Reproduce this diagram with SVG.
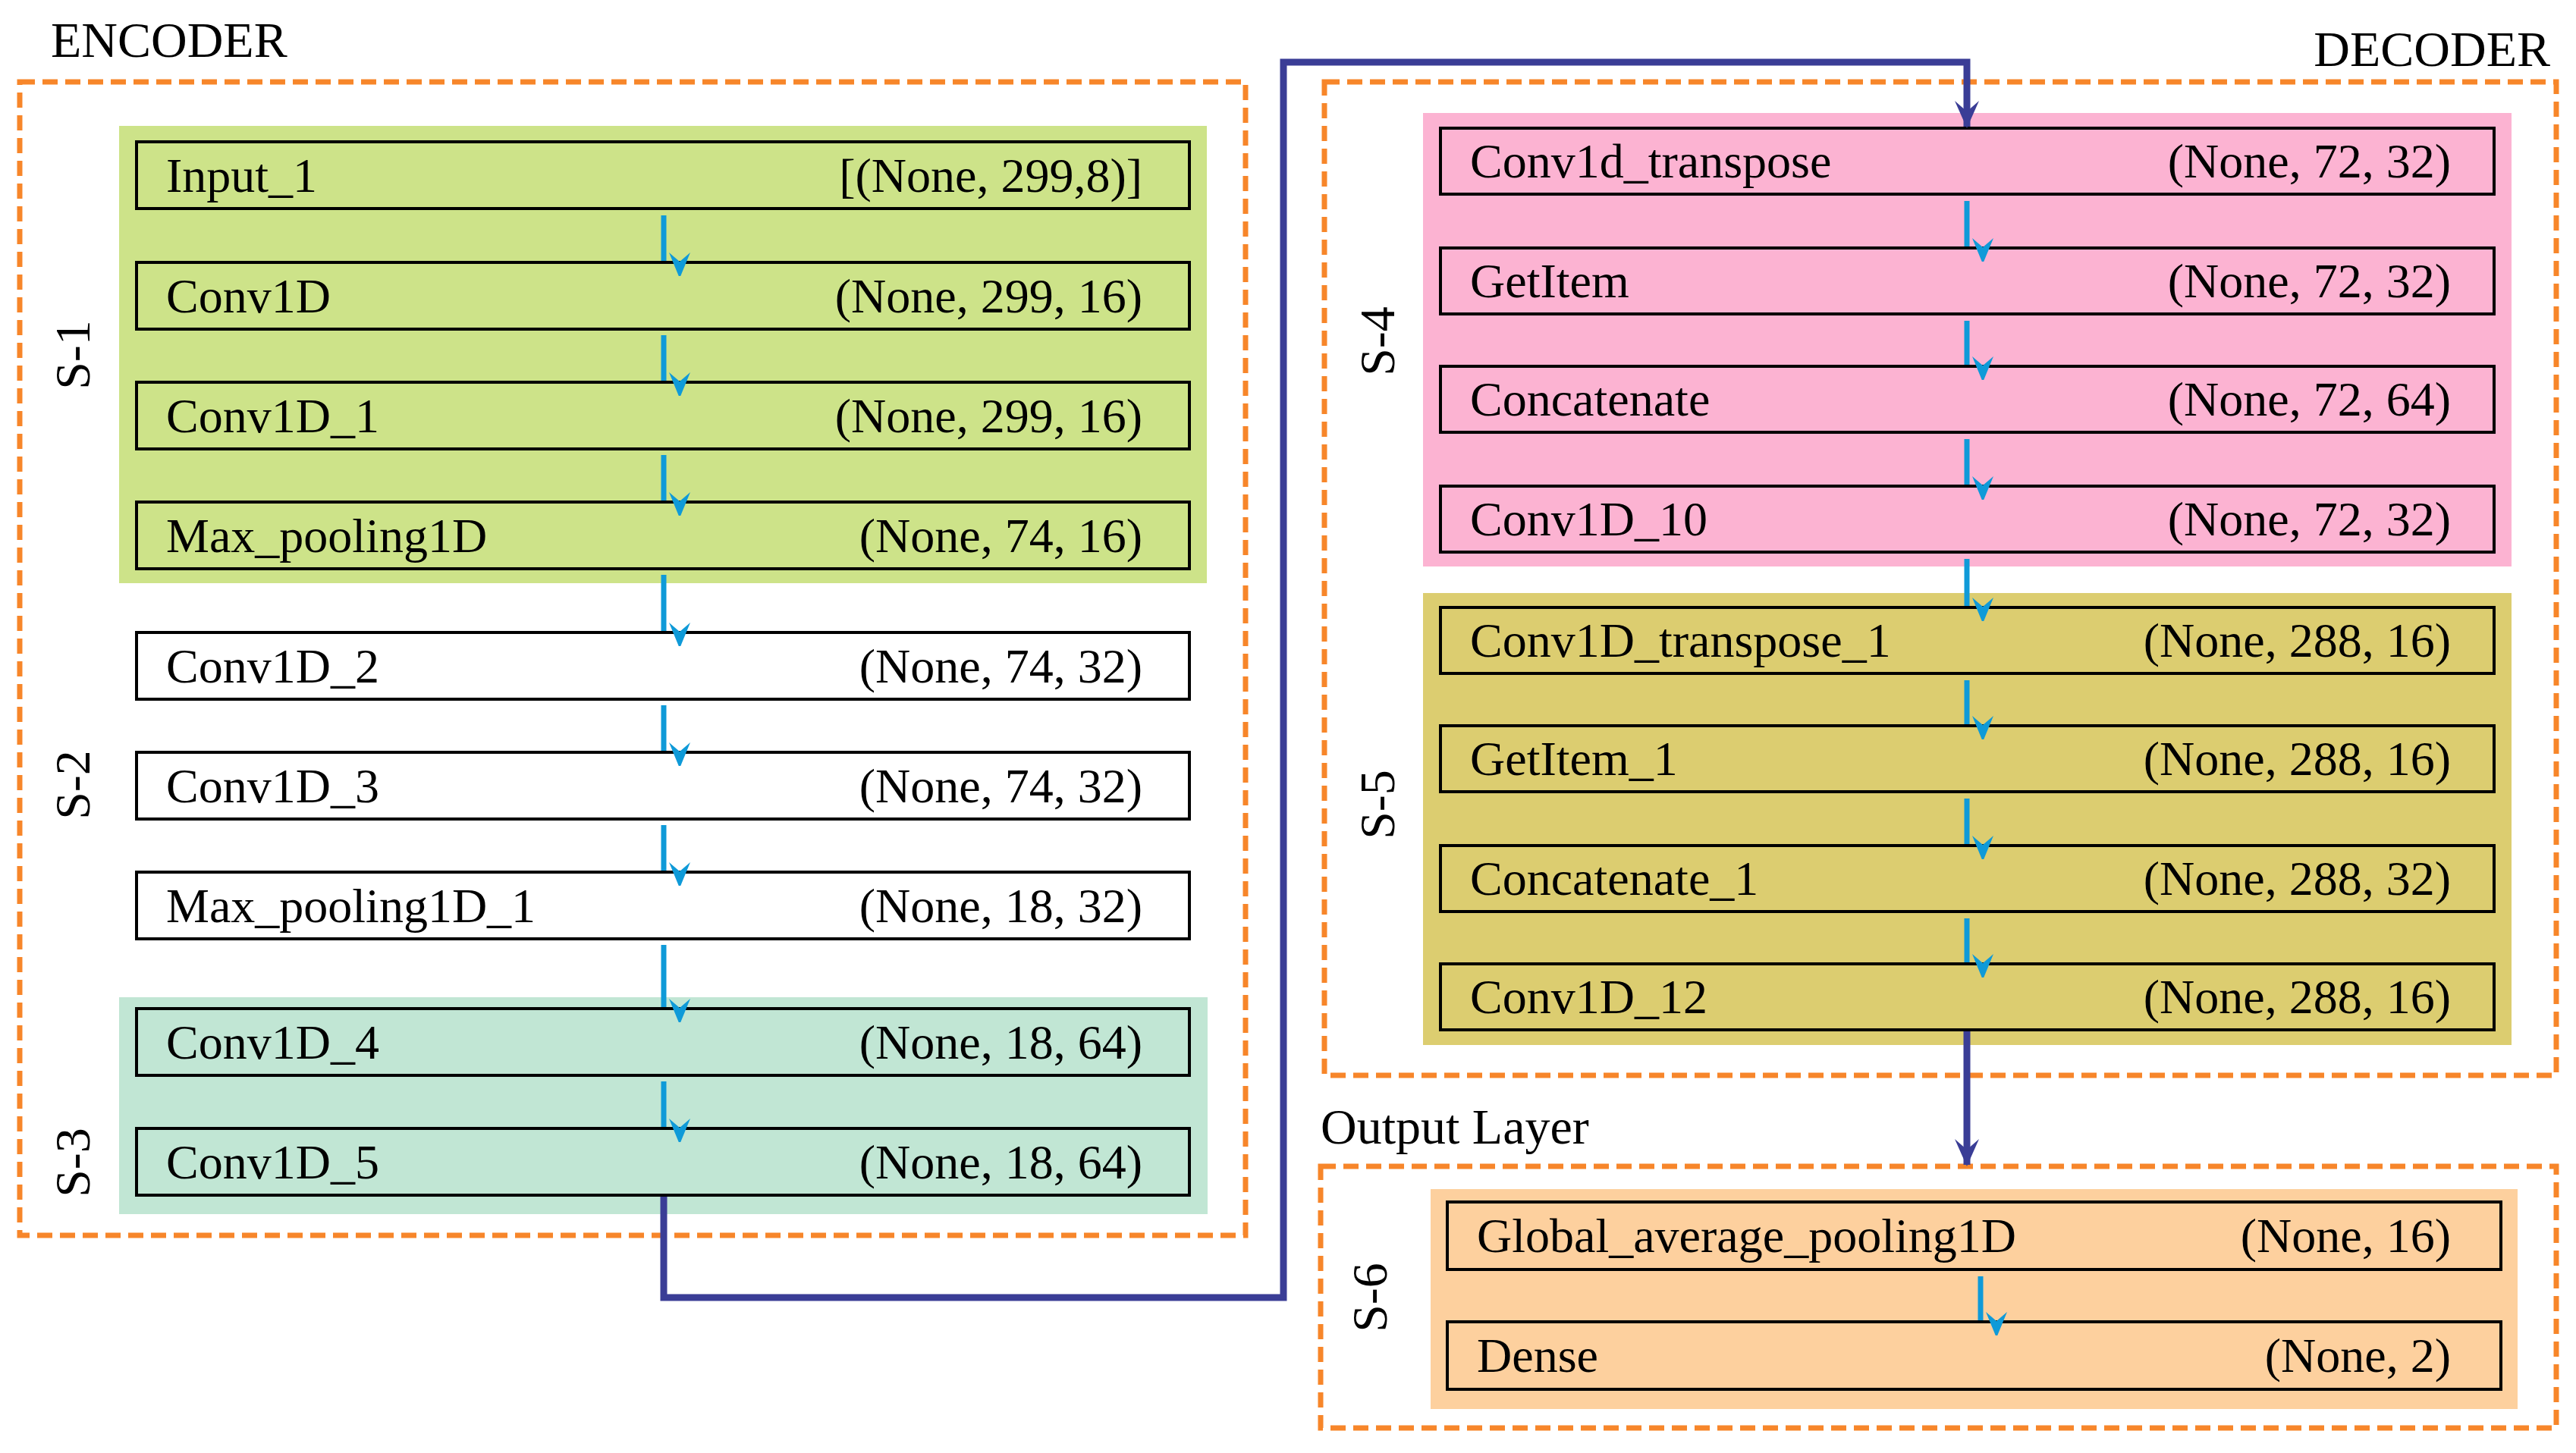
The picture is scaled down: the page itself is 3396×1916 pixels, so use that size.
<svg xmlns="http://www.w3.org/2000/svg" width="3396" height="1916" viewBox="0 0 3396 1916">
<style>
text{font-family:"Liberation Serif","Times New Roman",serif;font-size:64px;fill:#000}
.r{text-anchor:end}
.node{stroke:#000;stroke-width:4}
.dash{fill:none;stroke:#f7862a;stroke-width:7;stroke-dasharray:20 10}
.ca{stroke:#0f9ad8;stroke-width:7;fill:none;marker-end:url(#ah)}
.big{stroke:#3a3d96;stroke-width:9;fill:none}
.lab{font-size:66px}
</style>
<defs>
<marker id="ah" markerUnits="userSpaceOnUse" markerWidth="40" markerHeight="50" refX="20" refY="46" orient="auto-start-reverse" viewBox="0 0 40 50">
<path d="M20 48 L6 14 L20 26 L34 14 Z" fill="#0f9ad8" transform="rotate(-90 20 25)"/>
</marker>
<marker id="bh" markerUnits="userSpaceOnUse" markerWidth="44" markerHeight="50" refX="22" refY="48" viewBox="0 0 44 50">
<path d="M22 50 L6 14 L22 28 L38 14 Z" fill="#3a3d96"/>
</marker>
</defs>
<g id="encoder-frame">
<rect class="dash" x="26" y="108" width="1616" height="1521"/>
<text x="67" y="75" class="lab">ENCODER</text>
<rect x="157" y="166" width="1434" height="603" fill="#cde389"/>
<rect x="157" y="1315" width="1435" height="286" fill="#c1e6d4"/>
<text class="lab" transform="translate(118 468) rotate(-90)" text-anchor="middle">S-1</text>
<text class="lab" transform="translate(118 1035) rotate(-90)" text-anchor="middle">S-2</text>
<text class="lab" transform="translate(118 1533) rotate(-90)" text-anchor="middle">S-3</text>
</g>
<g id="decoder-frame">
<rect class="dash" x="1746" y="108" width="1624" height="1310"/>
<text x="3362" y="87" class="lab r">DECODER</text>
<rect x="1876" y="149" width="1435" height="598" fill="#fcb3d2"/>
<rect x="1876" y="782" width="1435" height="596" fill="#dccd70"/>
<text class="lab" transform="translate(1838 450) rotate(-90)" text-anchor="middle">S-4</text>
<text class="lab" transform="translate(1838 1061) rotate(-90)" text-anchor="middle">S-5</text>
</g>
<g id="output-frame">
<rect class="dash" x="1741" y="1538" width="1629" height="345"/>
<text x="1741" y="1508" class="lab">Output Layer</text>
<rect x="1886" y="1568" width="1433" height="290" fill="#fdd09e"/>
<text class="lab" transform="translate(1828 1711) rotate(-90)" text-anchor="middle">S-6</text>
</g>
<g id="n-input1"><rect class="node" x="180" y="187" width="1388" height="88" fill="#cde389"/><text x="219" y="253">Input_1</text><text x="1506" y="253" class="r">[(None, 299,8)]</text></g>
<g id="n-conv1d"><rect class="node" x="180" y="346" width="1388" height="88" fill="#cde389"/><text x="219" y="412">Conv1D</text><text x="1506" y="412" class="r">(None, 299, 16)</text></g>
<g id="n-conv1d1"><rect class="node" x="180" y="504" width="1388" height="88" fill="#cde389"/><text x="219" y="570">Conv1D_1</text><text x="1506" y="570" class="r">(None, 299, 16)</text></g>
<g id="n-maxpool"><rect class="node" x="180" y="662" width="1388" height="88" fill="#cde389"/><text x="219" y="728">Max_pooling1D</text><text x="1506" y="728" class="r">(None, 74, 16)</text></g>
<g id="n-conv1d2"><rect class="node" x="180" y="834" width="1388" height="88" fill="#fff"/><text x="219" y="900">Conv1D_2</text><text x="1506" y="900" class="r">(None, 74, 32)</text></g>
<g id="n-conv1d3"><rect class="node" x="180" y="992" width="1388" height="88" fill="#fff"/><text x="219" y="1058">Conv1D_3</text><text x="1506" y="1058" class="r">(None, 74, 32)</text></g>
<g id="n-maxpool1"><rect class="node" x="180" y="1150" width="1388" height="88" fill="#fff"/><text x="219" y="1216">Max_pooling1D_1</text><text x="1506" y="1216" class="r">(None, 18, 32)</text></g>
<g id="n-conv1d4"><rect class="node" x="180" y="1330" width="1388" height="88" fill="#c1e6d4"/><text x="219" y="1396">Conv1D_4</text><text x="1506" y="1396" class="r">(None, 18, 64)</text></g>
<g id="n-conv1d5"><rect class="node" x="180" y="1488" width="1388" height="88" fill="#c1e6d4"/><text x="219" y="1554">Conv1D_5</text><text x="1506" y="1554" class="r">(None, 18, 64)</text></g>
<g id="n-convt"><rect class="node" x="1899" y="169" width="1389" height="87" fill="#fcb3d2"/><text x="1938" y="234">Conv1d_transpose</text><text x="3231" y="234" class="r">(None, 72, 32)</text></g>
<g id="n-getitem"><rect class="node" x="1899" y="327" width="1389" height="87" fill="#fcb3d2"/><text x="1938" y="392">GetItem</text><text x="3231" y="392" class="r">(None, 72, 32)</text></g>
<g id="n-concat"><rect class="node" x="1899" y="483" width="1389" height="87" fill="#fcb3d2"/><text x="1938" y="548">Concatenate</text><text x="3231" y="548" class="r">(None, 72, 64)</text></g>
<g id="n-conv1d10"><rect class="node" x="1899" y="641" width="1389" height="87" fill="#fcb3d2"/><text x="1938" y="706">Conv1D_10</text><text x="3231" y="706" class="r">(None, 72, 32)</text></g>
<g id="n-convt1"><rect class="node" x="1899" y="801" width="1389" height="87" fill="#dccd70"/><text x="1938" y="866">Conv1D_transpose_1</text><text x="3231" y="866" class="r">(None, 288, 16)</text></g>
<g id="n-getitem1"><rect class="node" x="1899" y="957" width="1389" height="87" fill="#dccd70"/><text x="1938" y="1022">GetItem_1</text><text x="3231" y="1022" class="r">(None, 288, 16)</text></g>
<g id="n-concat1"><rect class="node" x="1899" y="1115" width="1389" height="87" fill="#dccd70"/><text x="1938" y="1180">Concatenate_1</text><text x="3231" y="1180" class="r">(None, 288, 32)</text></g>
<g id="n-conv1d12"><rect class="node" x="1899" y="1271" width="1389" height="87" fill="#dccd70"/><text x="1938" y="1336">Conv1D_12</text><text x="3231" y="1336" class="r">(None, 288, 16)</text></g>
<g id="n-gap"><rect class="node" x="1908" y="1585" width="1389" height="89" fill="#fdd09e"/><text x="1947" y="1651">Global_average_pooling1D</text><text x="3231" y="1651" class="r">(None, 16)</text></g>
<g id="n-dense"><rect class="node" x="1908" y="1743" width="1389" height="89" fill="#fdd09e"/><text x="1947" y="1809">Dense</text><text x="3231" y="1809" class="r">(None, 2)</text></g>
<g id="connectors">
<path class="ca" d="M875 284 V344"/>
<path class="ca" d="M875 442 V502"/>
<path class="ca" d="M875 600 V660"/>
<path class="ca" d="M875 758 V832"/>
<path class="ca" d="M875 930 V990"/>
<path class="ca" d="M875 1088 V1148"/>
<path class="ca" d="M875 1246 V1328"/>
<path class="ca" d="M875 1426 V1486"/>
<path class="ca" d="M2593 265 V325"/>
<path class="ca" d="M2593 423 V481"/>
<path class="ca" d="M2593 579 V639"/>
<path class="ca" d="M2593 737 V799"/>
<path class="ca" d="M2593 897 V955"/>
<path class="ca" d="M2593 1053 V1113"/>
<path class="ca" d="M2593 1211 V1269"/>
<path class="ca" d="M2611 1683 V1741"/>
<path class="big" marker-end="url(#bh)" d="M875 1578 V1711 H1692 V82 H2593 V167"/>
<path class="big" marker-end="url(#bh)" d="M2593 1360 V1536"/>
</g>
</svg>
